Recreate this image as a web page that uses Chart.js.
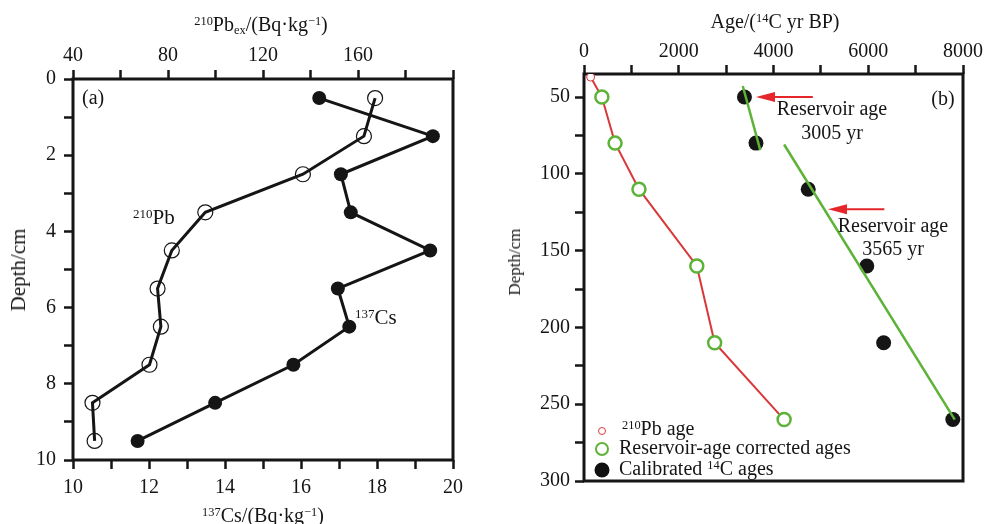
<!DOCTYPE html>
<html>
<head>
<meta charset="utf-8">
<script src="https://cdn.jsdelivr.net/npm/chart.js@4.4.1/dist/chart.umd.min.js"></script>
<style>
  body { margin: 0; background: #fff; width: 986px; height: 524px; overflow: hidden; position: relative;
         font-family: 'Liberation Serif', 'Times New Roman', serif; color: #151515; }
  canvas { position: absolute; top: 0; }
  .lbl { position: absolute; white-space: nowrap; font-size: 20px; line-height: 20px; }
  .c { transform: translate(-50%, -50%); text-align: center; }
  .v { transform: translate(-50%, -50%) rotate(-90deg); }
  .sup { font-size: 0.62em; position: relative; top: -0.5em; }
  .sub { font-size: 0.62em; position: relative; top: 0.28em; }
  .mk { position: absolute; border-radius: 50%; box-sizing: border-box; transform: translate(-50%, -50%); }
</style>
</head>
<body>
<canvas id="chartA" width="490" height="524" style="left:0"></canvas>
<canvas id="chartB" width="496" height="524" style="left:490px"></canvas>

<!-- panel (a) texts -->
<div class="lbl c" style="left:261px; top:25px"><span class="sup">210</span>Pb<span class="sub">ex</span>/(Bq·kg<span class="sup">−1</span>)</div>
<div class="lbl c" style="left:263px; top:516px"><span class="sup">137</span>Cs/(Bq·kg<span class="sup">−1</span>)</div>
<div class="lbl v" style="left:18px; top:270px; font-size:21px">Depth/cm</div>
<div class="lbl" style="left:82px; top:87px">(a)</div>
<div class="lbl" style="left:133px; top:207px; font-size:21px"><span class="sup">210</span>Pb</div>
<div class="lbl" style="left:355px; top:307px; font-size:21px"><span class="sup">137</span>Cs</div>

<!-- panel (b) texts -->
<div class="lbl c" style="left:775px; top:22px">Age/(<span class="sup">14</span>C yr BP)</div>
<div class="lbl v" style="left:515px; top:262px; font-size:17px">Depth/cm</div>
<div class="lbl c" style="left:943px; top:98px">(b)</div>
<div class="lbl c" style="left:832px; top:120px; line-height:24px">Reservoir age<br>3005 yr</div>
<div class="lbl c" style="left:893px; top:237px; line-height:23px">Reservoir age<br>3565 yr</div>

<!-- legend (b) -->
<div class="mk" style="left:602px; top:431px; width:8px; height:8px; border:1px solid #d9383a; background:#fff"></div>
<div class="lbl" style="left:622px; top:418px"><span class="sup">210</span>Pb age</div>
<div class="mk" style="left:602px; top:449px; width:14px; height:14px; border:2.5px solid #5cb338; background:#fff"></div>
<div class="lbl" style="left:619px; top:437px">Reservoir-age corrected ages</div>
<div class="mk" style="left:602px; top:470px; width:15px; height:15px; background:#111"></div>
<div class="lbl" style="left:619px; top:458px">Calibrated <span class="sup">14</span>C ages</div>

<script>
// panel (a): activity profiles
const depthA = [0.5, 1.5, 2.5, 3.5, 4.5, 5.5, 6.5, 7.5, 8.5, 9.5];
const cs137 = [16.48, 19.47, 17.05, 17.31, 19.40, 16.97, 17.27, 15.80, 13.74, 11.70];
const pb210ex = [167.2, 162.5, 136.8, 95.7, 81.6, 75.6, 77.0, 72.2, 48.2, 49.1];

// panel (b): age-depth
const pbAge = [140];
const pbAgeDepth = [37];
const corrAge = [377, 656, 1160, 2381, 2758, 4224];
const corrDepth = [50, 80, 110, 160, 210, 260];
const calAge = [3387, 3630, 4733, 5969, 6325, 7785];
const calDepth = [50, 80, 110, 160, 210, 260];
const fit1Age = [3351, 3721];
const fit1Depth = [42.8, 84.6];
const fit2Age = [4224, 7826];
const fit2Depth = [80.9, 260];
const arrowTailAge = [4830, 6340];
const arrowHeadAge = [3630, 5150];
const arrowDepth = [50, 123];

const depthTicksB = [50, 75, 100, 125, 150, 175, 200, 225, 250, 275, 300];

const INK = '#151515';
const GREEN = '#5cb338';
const RED = '#d9383a';
const FONT = { family: "'Liberation Serif', 'Times New Roman', serif", size: 20 };

const pts = (xs, ys) => xs.map((x, i) => ({ x, y: ys[i] }));

const framePlugin = {
    id: 'frame',
    beforeDatasetsDraw(chart) {
        const { ctx, chartArea: a } = chart;
        ctx.save();
        ctx.strokeStyle = INK;
        ctx.lineWidth = 3;
        ctx.strokeRect(a.left, a.top, a.right - a.left, a.bottom - a.top);
        ctx.restore();
    },
};

const arrowPlugin = {
    id: 'arrows',
    afterDatasetsDraw(chart) {
        const { ctx, scales } = chart;
        ctx.save();
        ctx.strokeStyle = '#e5262b';
        ctx.fillStyle = '#e5262b';
        ctx.lineWidth = 2;
        arrowDepth.forEach((d, i) => {
            const y = scales.y.getPixelForValue(d);
            const x0 = scales.x.getPixelForValue(arrowTailAge[i]);
            const x1 = scales.x.getPixelForValue(arrowHeadAge[i]);
            ctx.beginPath();
            ctx.moveTo(x0, y);
            ctx.lineTo(x1 + 14, y);
            ctx.stroke();
            ctx.beginPath();
            ctx.moveTo(x1, y);
            ctx.lineTo(x1 + 19, y - 5);
            ctx.lineTo(x1 + 19, y + 5);
            ctx.closePath();
            ctx.fill();
        });
        ctx.restore();
    },
};

function tickAxis(extra) {
    return Object.assign({
        type: 'linear',
        grid: { display: true, drawOnChartArea: false, drawTicks: true, tickLength: 9, tickWidth: 2.5, tickColor: INK },
        border: { display: false },
    }, extra);
}

new Chart(document.getElementById('chartA'), {
    type: 'scatter',
    data: {
        datasets: [
            {
                data: pts(cs137, depthA), xAxisID: 'x', yAxisID: 'y', showLine: true,
                borderColor: INK, borderWidth: 3,
                pointRadius: 7, pointBackgroundColor: INK, pointBorderColor: INK, pointBorderWidth: 0,
            },
            {
                data: pts(pb210ex, depthA), xAxisID: 'x2', yAxisID: 'y', showLine: true,
                borderColor: INK, borderWidth: 3,
                pointRadius: 7.5, pointBackgroundColor: 'rgba(0,0,0,0)', pointBorderColor: INK, pointBorderWidth: 1.2,
            },
        ],
    },
    options: {
        responsive: false,
        animation: false,
        layout: { padding: { left: 28, top: 39, right: 37, bottom: 24 } },
        plugins: { legend: { display: false }, tooltip: { enabled: false } },
        scales: {
            x: tickAxis({
                position: 'bottom', min: 10, max: 20,
                ticks: { stepSize: 1, autoSkip: false, maxRotation: 0, padding: 7, color: INK, font: FONT,
                         callback: (v) => (v % 2 === 0 ? v : '') },
                afterFit: (s) => { s.height = 40; },
            }),
            x2: tickAxis({
                position: 'top', min: 40, max: 200,
                ticks: { stepSize: 20, autoSkip: false, maxRotation: 0, padding: 2, color: INK, font: FONT,
                         callback: (v) => ((v - 40) % 40 === 0 && v < 200 ? v : '') },
                afterFit: (s) => { s.height = 40; },
            }),
            y: tickAxis({
                position: 'left', min: 0, max: 10, reverse: true,
                ticks: { stepSize: 1, autoSkip: false, padding: 8, color: INK, font: FONT,
                         callback: (v) => (v % 2 === 0 ? v : '') },
                afterFit: (s) => { s.width = 45; },
            }),
        },
    },
    plugins: [framePlugin],
});

new Chart(document.getElementById('chartB'), {
    type: 'scatter',
    data: {
        datasets: [
            { data: pts(fit1Age, fit1Depth), showLine: true, borderColor: GREEN, borderWidth: 2.5, pointRadius: 0 },
            { data: pts(fit2Age, fit2Depth), showLine: true, borderColor: GREEN, borderWidth: 2.5, pointRadius: 0 },
            {
                data: pts(pbAge, pbAgeDepth),
                pointRadius: 4, pointBackgroundColor: '#fff', pointBorderColor: RED, pointBorderWidth: 1,
            },
            {
                data: pts(corrAge, corrDepth),
                pointRadius: 6.5, pointBackgroundColor: '#fff', pointBorderColor: GREEN, pointBorderWidth: 2.5,
            },
            {
                data: pts(calAge, calDepth),
                pointRadius: 7.5, pointBackgroundColor: INK, pointBorderColor: INK, pointBorderWidth: 0,
            },
            {
                data: pts(pbAge.concat(corrAge), pbAgeDepth.concat(corrDepth)),
                showLine: true, borderColor: RED, borderWidth: 2, pointRadius: 0,
            },
        ],
    },
    options: {
        responsive: false,
        animation: false,
        layout: { padding: { left: 44, top: 34, right: 23, bottom: 43 } },
        plugins: { legend: { display: false }, tooltip: { enabled: false } },
        scales: {
            x: tickAxis({
                position: 'top', min: 0, max: 8000,
                ticks: { stepSize: 1000, autoSkip: false, maxRotation: 0, padding: 1, color: INK, font: FONT,
                         callback: (v) => (v % 2000 === 0 ? v : '') },
                afterFit: (s) => { s.height = 40; },
            }),
            y: tickAxis({
                position: 'left', min: 35, max: 300, reverse: true,
                afterBuildTicks: (s) => { s.ticks = depthTicksB.map((v) => ({ value: v })); },
                ticks: { autoSkip: false, padding: 5, color: INK, font: FONT,
                         callback: (v) => (v % 50 === 0 ? v : '') },
                afterFit: (s) => { s.width = 50; },
            }),
        },
    },
    plugins: [framePlugin, arrowPlugin],
});
</script>
</body>
</html>
